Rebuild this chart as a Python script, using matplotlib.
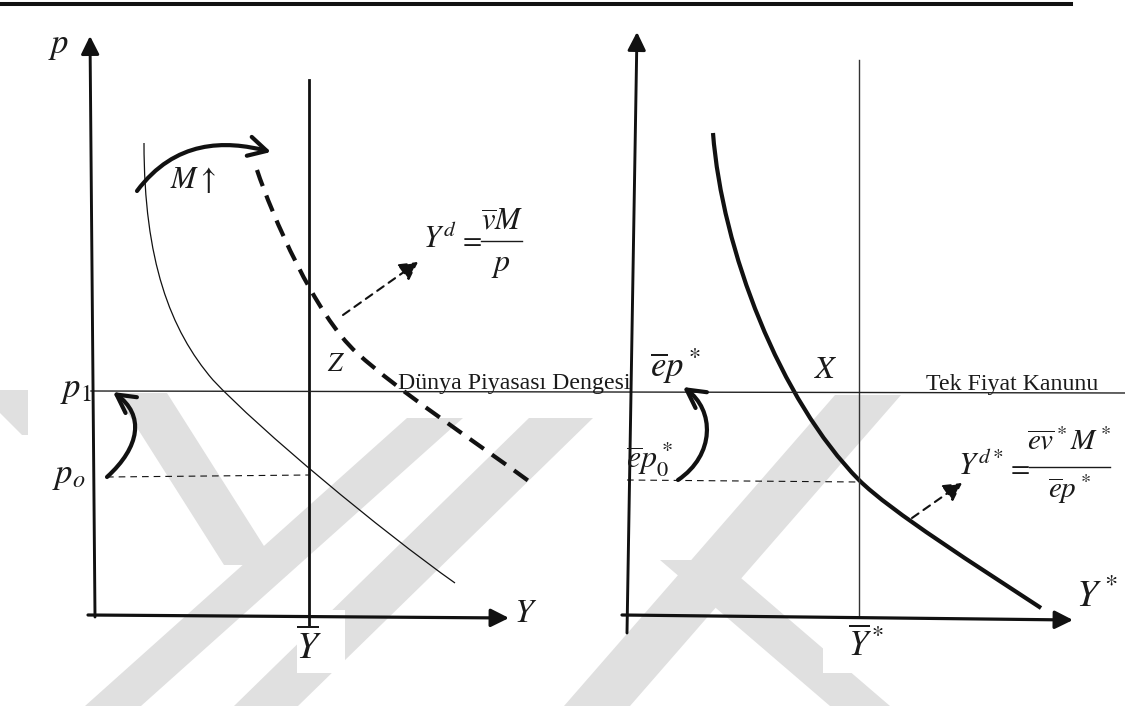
import matplotlib.pyplot as plt
from matplotlib.patches import FancyArrowPatch, Polygon, Rectangle, PathPatch
from matplotlib.path import Path

plt.rcParams['mathtext.fontset'] = 'stix'
plt.rcParams['font.family'] = ['Liberation Serif', 'DejaVu Serif']

# --- diagram geometry (pixel coords, y down), curves as cubic bezier control points ---
# left panel: thin AD curve Y^d = vM/p
ad_ctrl = [(144, 143), (144, 260), (170, 330), (213, 380),
           (260, 430), (380, 530), (455, 583)]
# shifted AD curve after M up (dashed)
ad2_ctrl = [(257, 170), (272, 215), (315, 315), (357, 353),
            (400, 392), (470, 438), (530, 482)]
# right panel: foreign AD curve
adf_ctrl = [(713, 133), (722, 250), (780, 400), (859, 480),
            (890, 511), (980, 568), (1041, 608)]

ybar_x, ybarf_x = 309, 859
p1_y = 391
p0_y, p0f_y = 476, 481

# watermark bands: (x_top, y_top, x_bottom, y_bottom, half width)
wm_bands = [
    (141, 393, 250, 565, 26),
    (435, 418, 113, 706, 28),
    (561, 418, 266, 706, 32),
    (868, 395, 597, 706, 33),
    (690, 560, 860, 706, 30),
]
wm_white = [(297, 610, 48, 63), (492, 583, 70, 67), (823, 597, 47, 76),
            (605, 477, 25, 36), (375, 393, 220, 25), (680, 393, 33, 32)]

fig = plt.figure(figsize=(11.25, 7.06), dpi=100)
ax = fig.add_axes([0, 0, 1, 1])
ax.set_xlim(0, 1125)
ax.set_ylim(706, 0)
ax.axis('off')

wm = '#e0e0e0'
for xt, yt, xb, yb, hw in wm_bands:
    ax.add_patch(Polygon([(xt - hw, yt), (xt + hw, yt), (xb + hw, yb), (xb - hw, yb)],
                         closed=True, fc=wm, ec='none', zorder=0))
ax.add_patch(Polygon([(0, 390), (28, 390), (28, 435), (22, 435), (0, 413)],
                     closed=True, fc=wm, ec='none', zorder=0))
for x, y, w, h in wm_white:
    ax.add_patch(Rectangle((x, y), w, h, fc='white', ec='none', zorder=0.5))

k = '#111111'

# top rule
ax.plot([0, 1071], [4, 4], color=k, lw=2.9)


def bezier(ctrl, **kw):
    codes = [Path.MOVETO] + [Path.CURVE4] * (len(ctrl) - 1)
    ax.add_patch(PathPatch(Path(ctrl, codes), fill=False, **kw))


def axis_arrow(tail, tip, lw=2.1):
    ax.annotate('', xy=tip, xytext=tail,
                arrowprops=dict(arrowstyle='-|>,head_length=1.1,head_width=0.55',
                                mutation_scale=10, lw=lw, color=k,
                                shrinkA=0, shrinkB=0))


def curved_arrow(pts, lw=3):
    path = Path(pts, [Path.MOVETO, Path.CURVE4, Path.CURVE4, Path.CURVE4])
    ax.add_patch(FancyArrowPatch(path=path,
                                 arrowstyle='->,head_length=1.3,head_width=0.7',
                                 mutation_scale=10, lw=lw, color=k, zorder=3))


def dashed_arrow(tail, tip):
    ax.annotate('', xy=tip, xytext=tail,
                arrowprops=dict(arrowstyle='-|>,head_length=1.0,head_width=0.55',
                                mutation_scale=11, lw=1.5, color=k,
                                linestyle=(0, (3.8, 2.9)), shrinkA=0, shrinkB=0))


# axes
axis_arrow((95, 617), (90, 36))
axis_arrow((88, 615), (509, 618), lw=2.3)
axis_arrow((627, 633), (637, 32))
axis_arrow((622, 615), (1073, 620), lw=2.3)

# Y-bar lines
ax.plot([ybar_x, ybar_x], [80, 625], color=k, lw=2.0)
ax.plot([ybarf_x, ybarf_x], [60, 617], color='#333333', lw=1.0)

# p1 / world market line
ax.plot([91, 1125], [p1_y, p1_y + 2], color='#222222', lw=1.0)

# p0 dotted lines
ax.plot([107, ybar_x], [p0_y + 1, p0_y - 1], color=k, lw=0.8, linestyle=(0, (6, 4.5)))
ax.plot([627, ybarf_x], [p0f_y - 1, p0f_y + 1], color=k, lw=0.8, linestyle=(0, (6, 4.5)))

# demand curves
bezier(ad_ctrl, ec=k, lw=0.9)
bezier(ad2_ctrl, ec=k, lw=3.0, linestyle=(0, (4.1, 2.4)), capstyle='butt')
bezier(adf_ctrl, ec=k, lw=3.0)

# curved arrows
curved_arrow([(137, 191), (175, 140), (225, 140), (271, 152)])
curved_arrow([(107, 477), (140, 447), (145, 415), (113, 392)])
curved_arrow([(678, 480), (715, 455), (715, 410), (683, 387)])

# dashed pointer arrows
dashed_arrow((343, 315), (418, 262))
dashed_arrow((912, 518), (962, 483))

tc = '#1a1a1a'


def label(x, y, s, size, ha='center'):
    ax.text(x, y, s, fontsize=size, ha=ha, va='center', color=tc)


# left panel labels
label(59, 46, r'$p$', 25)
label(76, 389, r'$p_1$', 25)
label(69, 475, r'$p_o$', 25)
label(193, 180, r'$M\uparrow$', 22)
label(336, 365, r'$Z$', 19)
label(309, 648, r'$\overline{Y}$', 27)
label(526, 614, r'$Y$', 24)

# Y^d = vM / p
label(423, 239, r'$Y^d$', 22, ha='left')
label(470, 241, r'$=$', 20)
ax.plot([481, 522], [241, 241], color=tc, lw=1.0)
label(502, 223, r'$\overline{v}M$', 22)
label(501, 266, r'$p$', 23)

# right panel labels
label(676, 366, r'$\overline{e}p^*$', 25)
label(650, 458, r'$\overline{e}p_0^*$', 23)
label(826, 371, r'$X$', 23)
label(866, 646, r'$\overline{Y}^*$', 25)
label(1097, 597, r'$Y^*$', 27)

# Y^d* = ev* M* / ep*
label(958, 466, r'$Y^{d*}$', 22, ha='left')
label(1018, 468, r'$=$', 20)
ax.plot([1029, 1110], [467, 467], color=tc, lw=1.0)
label(1069, 441, r'$\overline{ev}^*M^*$', 21)
label(1070, 489, r'$\overline{e}p^*$', 21)

ax.text(398, 389, 'Dünya Piyasası Dengesi', fontsize=17.2, ha='left', va='baseline', color=tc)
ax.text(926, 390, 'Tek Fiyat Kanunu', fontsize=17.2, ha='left', va='baseline', color=tc)

fig.savefig('out.png', dpi=100)
